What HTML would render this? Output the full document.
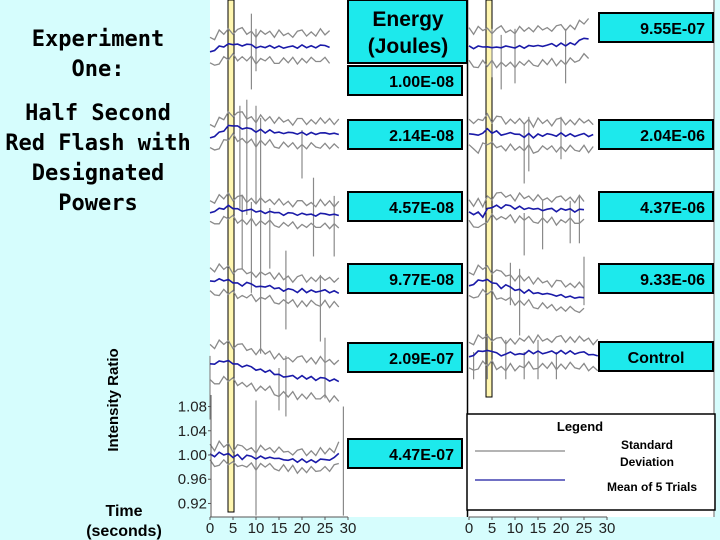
<!DOCTYPE html>
<html><head><meta charset="utf-8">
<style>
html,body{margin:0;padding:0;background:#d6fdfd;}
svg{display:block;}
.t{font-family:"DejaVu Sans Mono","Liberation Mono",monospace;font-weight:bold;font-size:22px;fill:#000;}
.lab{font-family:"Liberation Sans",sans-serif;font-weight:bold;font-size:16px;fill:#000;}
.tick{font-family:"Liberation Sans",sans-serif;font-size:15px;fill:#222;}
</style></head>
<body>
<svg id="chart" width="720" height="540" viewBox="0 0 720 540">
<rect x="0" y="0" width="720" height="540" fill="#d6fdfd"/>
<rect x="210" y="0" width="504" height="517" fill="#ffffff"/>
<line x1="714" y1="0" x2="714" y2="517" stroke="#999" stroke-width="1.5"/>
<line x1="467.5" y1="0" x2="467.5" y2="517" stroke="#000" stroke-width="1.5"/>
<rect x="228" y="0" width="6" height="512" fill="#fff6b0" stroke="#000" stroke-width="1"/>
<rect x="486" y="0" width="6" height="397" fill="#fff6b0" stroke="#000" stroke-width="1"/>
<g id="traces"></g>
<g id="axes"></g>

<text class="t" x="98" y="46" text-anchor="middle">Experiment</text>
<text class="t" x="98" y="76" text-anchor="middle">One:</text>
<text class="t" x="98" y="120" text-anchor="middle">Half Second</text>
<text class="t" x="98" y="150" text-anchor="middle">Red Flash with</text>
<text class="t" x="98" y="180" text-anchor="middle">Designated</text>
<text class="t" x="98" y="210" text-anchor="middle">Powers</text>
<text class="lab" transform="translate(118,400) rotate(-90)" text-anchor="middle" style="font-size:15px">Intensity Ratio</text>
<text class="lab" x="124" y="516" text-anchor="middle">Time</text>
<text class="lab" x="124" y="536" text-anchor="middle">(seconds)</text>

<rect x="348" y="0" width="119" height="63" fill="#1de9ec" stroke="#000" stroke-width="2"/>
<text class="lab" x="408" y="26" text-anchor="middle" style="font-size:21px">Energy</text>
<text class="lab" x="408" y="53" text-anchor="middle" style="font-size:21px">(Joules)</text>

<rect x="467" y="414" width="248" height="96" fill="#fff" stroke="#000" stroke-width="1.5"/>
<text class="lab" x="580" y="431" text-anchor="middle" style="font-size:13px">Legend</text>
<line x1="475" y1="451" x2="565" y2="451" stroke="#888" stroke-width="1.2"/>
<line x1="475" y1="480" x2="565" y2="480" stroke="#1a1aa0" stroke-width="1.2"/>
<text class="lab" x="647" y="449" text-anchor="middle" style="font-size:12px">Standard</text>
<text class="lab" x="647" y="466" text-anchor="middle" style="font-size:12px">Deviation</text>
<text class="lab" x="652" y="491" text-anchor="middle" style="font-size:12px">Mean of 5 Trials</text>
<g id="labels"></g>
</svg>
<script>
// ---- data ----
const energyLabels = ["1.00E-08","2.14E-08","4.57E-08","9.77E-08","2.09E-07","4.47E-07","9.55E-07","2.04E-06","4.37E-06","9.33E-06","Control"];
const yTicks = [0.92,0.96,1.00,1.04,1.08];
const xTicks = [0,5,10,15,20,25,30];
const meanL1 = [0.99,0.995,1.0,1.002,1.003,1.005,1.004,1.004,1.003,1.002,1.0,1.0,1.001,1.0,0.999,1.0,1.0,0.999,1.0,1.0,1.001,1.0,1.0,1.001,1.002,1.0,1.001];
const meanL2 = [0.985,0.99,0.995,1.0,1.005,1.008,1.006,1.004,1.002,1.0,0.998,1.0,0.997,0.998,0.996,0.995,0.996,0.995,0.994,0.995,0.994,0.993,0.994,0.995,0.994,0.993,0.995,0.994,0.995];
const meanL3 = [0.99,0.995,0.998,1.0,1.002,1.0,0.998,0.997,0.995,0.996,0.995,0.994,0.993,0.992,0.993,0.991,0.99,0.991,0.99,0.99,0.989,0.99,0.988,0.989,0.99,0.988,0.99,0.989,0.99];
const meanL4 = [1.008,1.01,1.012,1.012,1.01,1.008,1.006,1.004,1.006,1.003,1.002,1.0,1.002,1.0,0.998,0.997,0.995,0.996,0.994,0.993,0.995,0.992,0.993,0.994,0.992,0.993,0.992,0.993,0.992];
const meanL5 = [1.005,1.007,1.01,1.012,1.01,1.008,1.006,1.004,1.003,1.0,0.998,0.997,0.995,0.994,0.99,0.988,0.987,0.985,0.986,0.984,0.985,0.983,0.984,0.982,0.983,0.981,0.98,0.981,0.98];
const meanL6 = [1.0,0.998,1.003,1.002,1.0,0.997,1.0,0.995,0.998,0.996,0.995,0.997,0.996,0.994,0.995,0.993,0.994,0.99,0.992,0.99,0.991,0.989,0.99,0.99,0.992,0.99,0.993,0.995,1.005];
const meanR1 = [1.0,0.998,1.0,1.002,0.998,1.0,0.999,1.001,1.0,0.998,1.0,1.001,1.0,1.0,1.002,1.001,1.003,1.002,1.004,1.003,1.004,1.003,1.005,1.006,1.01,1.012,1.015];
const meanR2 = [1.0,1.002,0.998,1.005,1.008,1.004,1.006,1.002,1.0,1.002,1.003,1.0,0.998,1.0,0.996,1.0,1.0,1.001,0.999,1.0,1.001,0.999,1.0,1.0,0.999,1.0,0.999,1.0];
const meanR3 = [1.0,0.998,1.0,0.995,1.005,1.01,1.012,1.01,1.012,1.01,1.008,1.01,1.008,1.006,1.007,1.006,1.006,1.005,1.006,1.004,1.005,1.006,1.005,1.004,1.005,1.003];
const meanR4 = [1.0,1.005,1.01,1.012,1.01,1.008,1.005,1.0,1.002,0.998,0.996,0.995,0.992,0.993,0.99,0.989,0.99,0.988,0.986,0.987,0.985,0.984,0.983,0.984,0.982,0.98];
const meanR5 = [0.99,0.995,1.0,1.003,1.0,1.002,0.998,0.996,0.995,0.998,0.997,0.996,0.998,1.0,0.998,1.0,0.999,0.998,1.0,0.999,1.0,0.998,1.0,0.999,0.998,0.998,0.997,0.995,0.996];
const sdValues = [0.022,0.02,0.018,0.02,0.03,0.014,0.028,0.022,0.018,0.02,0.022];
const wiggle = [0.004,-0.005,0.006,-0.003,0.005,-0.006,0.003,0.006,-0.004,0.002,-0.006,0.005,-0.002,0.004,-0.005,0.006,-0.003,0.002,-0.006,0.004,0.005,-0.004,0.003,-0.005,0.006,-0.002,0.004,-0.005,0.003];
const spikesL1 = [[9,1.055,0.93],[10,1.03,0.96]];
const spikesL2 = [[6.5,1.04,0.87],[8,1.05,0.86],[10,1.04,0.88],[11,1.02,0.85],[20,1.0,0.92]];
const spikesL3 = [[7,1.02,0.9],[9,1.01,0.86],[11,1.02,0.87],[13,1.0,0.9],[22.5,1.05,0.92],[27,1.02,0.92]];
const spikesL4 = [[11,1.0,0.89],[16.5,1.06,0.93],[24,1.02,0.91]];
const spikesL5 = [[0,1.02,0.915],[15,1.0,0.93],[16.5,1.02,0.92],[25,1.05,0.95]];
const spikesL6 = [[10,1.09,0.9],[29,1.08,0.9]];
const spikesR1 = [[5,1.03,0.95],[7,1.02,0.93],[10,1.03,0.94],[21,1.03,0.94]];
const spikesR2 = [[12,1.02,0.92],[13,1.03,0.94],[20,1.03,0.96]];
const spikesR3 = [[12,1.0,0.93],[16,1.02,0.94],[22,1.02,0.95],[24,1.03,0.95]];
const spikesR4 = [[9,1.04,0.97],[11,1.03,0.92],[25,1.05,0.97]];
const spikesR5 = [[1,1.0,0.955],[4,1.03,0.955],[8,1.02,0.955],[12,1.0,0.955],[15,1.02,0.955],[19,1.0,0.955]];
// ---- layout ----
const panels = [
 {label:energyLabels[0],mean:meanL1,sd:sdValues[0],spikes:spikesL1,x0:207,base:47,lx:348,ly:66},
 {label:energyLabels[1],mean:meanL2,sd:sdValues[1],spikes:spikesL2,x0:207,base:130,lx:348,ly:120},
 {label:energyLabels[2],mean:meanL3,sd:sdValues[2],spikes:spikesL3,x0:207,base:208,lx:348,ly:192},
 {label:energyLabels[3],mean:meanL4,sd:sdValues[3],spikes:spikesL4,x0:207,base:287,lx:348,ly:264},
 {label:energyLabels[4],mean:meanL5,sd:sdValues[4],spikes:spikesL5,x0:207,base:368,lx:348,ly:343},
 {label:energyLabels[5],mean:meanL6,sd:sdValues[5],spikes:spikesL6,x0:207,base:455,lx:348,ly:439},
 {label:energyLabels[6],mean:meanR1,sd:sdValues[6],spikes:spikesR1,x0:466,base:47,lx:599,ly:13},
 {label:energyLabels[7],mean:meanR2,sd:sdValues[7],spikes:spikesR2,x0:466,base:135,lx:599,ly:120},
 {label:energyLabels[8],mean:meanR3,sd:sdValues[8],spikes:spikesR3,x0:466,base:213,lx:599,ly:192},
 {label:energyLabels[9],mean:meanR4,sd:sdValues[9],spikes:spikesR4,x0:466,base:287,lx:599,ly:264},
 {label:energyLabels[10],mean:meanR5,sd:sdValues[10],spikes:spikesR5,x0:466,base:352,lx:599,ly:342}
];
const NS='http://www.w3.org/2000/svg';
const pxPerSec=4.6, pxPerUnit=606;
function xs(p,t){return p.x0+3+t*pxPerSec;}
function ys(p,v){return p.base-(v-1)*pxPerUnit;}
const tg=document.getElementById('traces');
const lg=document.getElementById('labels');
const ag=document.getElementById('axes');
function mk(tag,attrs,parent){const e=document.createElementNS(NS,tag);for(const k in attrs)e.setAttribute(k,attrs[k]);parent.appendChild(e);return e;}
panels.forEach((p,i)=>{
  p.spikes.forEach(s=>{
    const l=mk('line',{x1:xs(p,s[0]),x2:xs(p,s[0]),y1:ys(p,s[1]),y2:ys(p,s[2]),stroke:'#8a8a8a','stroke-width':1.2},tg);
    
    
  });
  const up=p.mean.map((v,j)=>xs(p,j).toFixed(1)+','+ys(p,v+p.sd+wiggle[j]).toFixed(1)).join(' ');
  const lo=p.mean.map((v,j)=>xs(p,j).toFixed(1)+','+ys(p,v-p.sd-wiggle[(j+5)%wiggle.length]).toFixed(1)).join(' ');
  const mn=p.mean.map((v,j)=>xs(p,j).toFixed(1)+','+ys(p,v+wiggle[(j+11)%wiggle.length]*0.4).toFixed(1)).join(' ');
  const a=mk('polyline',{points:up,fill:'none',stroke:'#8a8a8a','stroke-width':1.3},tg);
  
  
  const b=mk('polyline',{points:lo,fill:'none',stroke:'#8a8a8a','stroke-width':1.3},tg);
  
  
  const c=mk('polyline',{points:mn,fill:'none',stroke:'#1a1aa8','stroke-width':1.6},tg);
  
  
  const r=mk('rect',{x:p.lx,y:p.ly,width:114,height:29,fill:'#1de9ec',stroke:'#000','stroke-width':2},lg);
  
  
  const t=mk('text',{x:p.label==='Control'?p.lx+57:p.lx+106,y:p.ly+21,'text-anchor':p.label==='Control'?'middle':'end',class:'lab'},lg);
  t.textContent=p.label;
  
  
});
mk('line',{x1:211,x2:211,y1:395,y2:517,stroke:'#555','stroke-width':1},ag);
yTicks.forEach(v=>{
  const y=455-(v-1)*pxPerUnit;
  const tl=mk('line',{x1:208,x2:211,y1:y,y2:y,stroke:'#555'},ag);
  
  
  const t=mk('text',{x:207,y:y+5,'text-anchor':'end',class:'tick'},ag);
  t.textContent=v.toFixed(2);
  
  
});
[207,466].forEach(x0=>{
  mk('line',{x1:x0+3,x2:x0+3+30*pxPerSec,y1:517,y2:517,stroke:'#555'},ag);
  xTicks.forEach(v=>{
    const x=x0+3+v*pxPerSec;
    const tl=mk('line',{x1:x,x2:x,y1:517,y2:520,stroke:'#555'},ag);
    
    
    const t=mk('text',{x:x,y:533,'text-anchor':'middle',class:'tick'},ag);
    t.textContent=v;
    
    
  });
});
</script>
</body></html>
